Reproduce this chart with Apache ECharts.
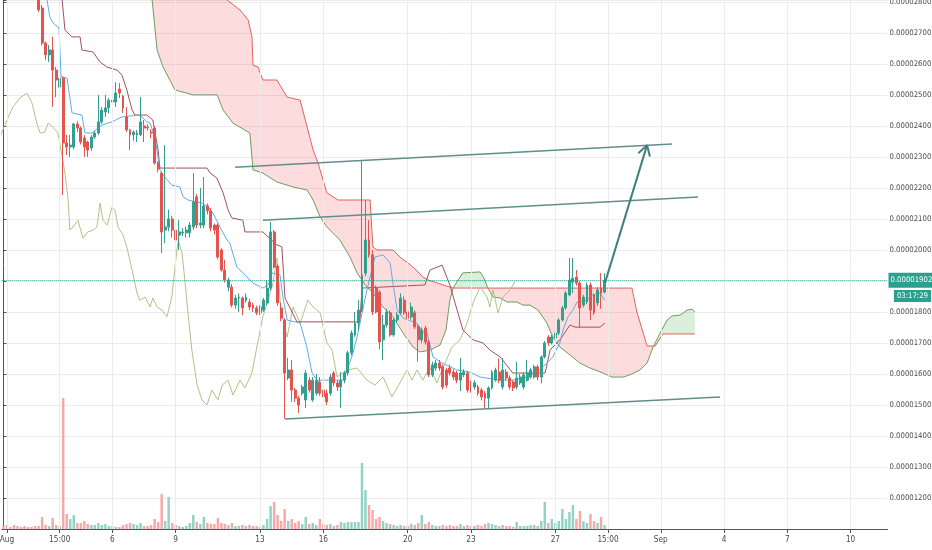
<!DOCTYPE html>
<html><head><meta charset="utf-8">
<script src="https://cdn.jsdelivr.net/npm/echarts@6.0.0/dist/echarts.min.js"></script>
<style>html,body{margin:0;padding:0;background:#fff}#c{width:932px;height:550px}</style>
</head><body><div id="c"></div>
<script>
// price units: 1 = 0.00000001
const N_SLOTS = 252;          // 4h slots on the time axis
const FIRST_K = 10;           // slot of first visible candle
const tickIdx  = [1, 16, 31, 49, 73, 91, 115, 133, 157, 172, 187, 205, 223, 241];
const tickText = ['Aug', '15:00', '6', '9', '13', '16', '20', '23', '27', '15:00', 'Sep', '4', '7', '10'];

const opens = [2830,2780,2667,2629,2645,2580,2525,2554,2345,2332,2332,2406,2393,2361,2348,2329,2364,2377,2413,2445,
2458,2483,2477,2519,2496,2429,2387,2371,2371,2371,2400,2396,2380,2393,2280,2248,2064,2074,2100,2064,
2048,2055,2055,2055,2074,2171,2080,2080,2142,2126,2080,2080,2000,1935,1880,1880,1822,1845,1845,1838,
1832,1822,1813,1797,1806,1829,1877,2058,1948,1813,1774,1587,1613,1548,1522,1538,1516,1580,1516,1538,
1574,1548,1538,1538,1603,1571,1558,1580,1603,1668,1726,1764,1806,1925,2032,1984,1877,1864,1710,1758,
1797,1726,1774,1797,1838,1800,1784,1797,1752,1710,1748,1703,1597,1619,1635,1623,1613,1619,1606,1603,
1580,1597,1603,1571,1558,1558,1548,1538,1522,1555,1580,1606,1558,1606,1587,1574,1558,1571,1558,1580,
1590,1590,1623,1590,1655,1719,1700,1716,1732,1774,1813,1855,1896,1912,1893,1822,1832,1887,1855,1829,
1877,1864];
const closes = [2774,2667,2629,2645,2580,2548,2554,2345,2332,2338,2406,2393,2348,2332,2322,2364,2377,2413,2451,2458,
2483,2477,2506,2506,2458,2387,2371,2380,2377,2413,2393,2393,2377,2280,2261,2058,2074,2100,2064,2032,
2058,2058,2064,2080,2155,2080,2087,2142,2126,2071,2064,1977,1935,1903,1903,1822,1845,1848,1813,1848,
1816,1813,1797,1816,1838,1877,2058,1945,1829,1780,1603,1613,1548,1522,1500,1558,1603,1548,1580,1580,
1538,1526,1510,1590,1571,1558,1580,1603,1668,1732,1764,1806,1919,2032,1984,1800,1800,1703,1758,1800,
1726,1774,1790,1845,1797,1780,1816,1752,1710,1742,1703,1597,1629,1635,1619,1558,1564,1603,1590,1580,
1603,1606,1548,1548,1571,1538,1526,1522,1555,1606,1613,1580,1613,1587,1558,1555,1587,1590,1597,1603,
1613,1623,1590,1655,1700,1700,1719,1732,1774,1813,1861,1903,1909,1893,1813,1848,1887,1806,1797,1871,
1861,1902];
const highs = [2840,2790,2672,2661,2687,2590,2600,2560,2371,2371,2410,2415,2398,2370,2352,2370,2384,2500,2461,2500,
2490,2528,2541,2538,2500,2461,2390,2385,2387,2493,2419,2405,2390,2400,2285,2252,2338,2130,2110,2070,
2096,2070,2075,2090,2248,2180,2200,2235,2150,2135,2085,2085,2005,1968,1910,1890,1855,1860,1850,1860,
1842,1830,1820,1822,1845,1903,2090,2064,1955,1830,1780,1652,1645,1555,1530,1565,1613,1590,1590,1600,
1590,1560,1550,1600,1610,1580,1606,1610,1675,1740,1800,1838,2290,2161,2096,2000,1885,1870,1790,1810,
1805,1780,1800,1860,1850,1820,1830,1805,1760,1750,1755,1710,1640,1645,1645,1630,1620,1630,1615,1610,
1652,1615,1610,1578,1580,1565,1555,1545,1560,1612,1620,1650,1650,1615,1595,1580,1640,1600,1605,1645,
1620,1630,1630,1660,1706,1725,1726,1740,1780,1820,1868,1974,1974,1935,1900,1855,1895,1895,1860,1880,
1925,1925];
const lows = [2767,2660,2612,2606,2461,2493,2500,2177,2306,2300,2325,2380,2340,2300,2300,2320,2358,2371,2406,2429,
2440,2442,2461,2490,2442,2380,2322,2352,2348,2368,2348,2385,2360,2275,2250,1990,2022,2060,2040,2016,
2000,2045,2040,2040,2065,2070,2070,2070,2115,2060,2050,1970,1930,1895,1867,1815,1810,1800,1790,1830,
1806,1800,1790,1790,1800,1822,1870,1940,1820,1770,1455,1580,1510,1510,1474,1530,1490,1540,1510,1530,
1530,1515,1500,1530,1560,1545,1490,1570,1595,1660,1720,1740,1800,1915,1975,1790,1795,1680,1645,1750,
1720,1720,1765,1790,1790,1770,1775,1745,1640,1700,1695,1590,1590,1610,1610,1550,1555,1595,1580,1570,
1545,1590,1540,1540,1550,1530,1515,1490,1490,1550,1575,1570,1550,1580,1550,1545,1550,1565,1550,1575,
1585,1585,1580,1570,1650,1690,1695,1710,1725,1770,1808,1850,1861,1885,1750,1815,1825,1774,1790,1820,
1810,1860];
// volume, one per slot from slot 0 (arbitrary units)
const volumes = [3,4,2,4,3,2,3,2,2,3,
3,12,4,3,11,4,3,131,15,10, 14,6,6,8,5,4,4,6,4,5, 3,3,2,2,4,5,6,5,4,6,
3,3,4,10,7,35,8,32,6,4, 3,2,3,6,14,7,5,12,6,5, 5,11,6,5,4,6,3,3,4,3,
4,3,3,2,4,10,23,27,14,8, 20,8,10,6,8,5,12,5,6,4, 10,5,4,5,3,4,7,6,7,7,
7,7,66,39,24,19,10,12,8,6, 5,4,3,4,3,3,5,4,6,14, 5,7,4,3,3,4,3,4,3,3,
5,3,4,3,3,4,3,5,6,5, 4,3,4,3,3,2,7,3,3,3, 4,4,3,8,27,6,10,6,8,20,
10,17,24,10,18,8,6,15,8,6, 12,4];

// Ichimoku lines, [slot, price]
const tenkan = [[11.5,2838],[12.4,2806],[13.2,2751],[14.1,2732],[15.8,2716],[16.4,2558],[18.1,2554],[19.5,2442],[22.3,2435],[23.2,2377],[25.2,2377],[28.0,2403],[30.9,2413],[33.7,2429],[38.8,2435],[40.8,2413],[41.7,2409],[43.1,2364],[44.5,2258],[45.4,2242],[47.9,2209],[50.2,2203],[51.1,2171],[52.5,2161],[56.5,2151],[58.2,2138],[59.6,2119],[61.6,2074],[63.6,2032],[64.4,2022],[66.4,1945],[68.1,1926],[71.0,1893],[73.8,1877],[75.3,1887],[76.4,1926],[78.7,1919],[79.5,1848],[80.7,1774],[84.4,1764],[86.3,1687],[87.8,1603],[89.2,1580],[96.6,1580],[99.1,1655],[100.6,1719],[103.4,1871],[105.7,1977],[108.0,1984],[110.0,1958],[110.8,1893],[112.0,1806],[113.7,1780],[117.6,1764],[119.3,1735],[120.5,1732],[122.2,1655],[124.8,1635],[129.0,1613],[132.7,1606],[135.6,1590],[141.3,1580],[144.9,1580],[148.9,1590],[151.8,1606],[154.6,1635],[156.3,1655],[158.3,1700],[159.2,1742],[160.6,1784],[162.0,1806],[163.2,1832],[166.0,1838],[167.7,1855],[169.7,1861],[171.1,1838]];
const kijun = [[16.4,2838],[16.7,2806],[17.5,2709],[19.5,2687],[21.8,2687],[22.3,2645],[25.5,2638],[27.5,2606],[29.4,2590],[32.3,2580],[33.7,2564],[35.1,2516],[36.6,2451],[37.4,2435],[40.8,2435],[42.5,2419],[44.0,2322],[44.5,2264],[57.9,2264],[58.8,2248],[60.7,2232],[62.5,2184],[63.9,2129],[65.0,2103],[68.1,2096],[68.7,2058],[73.8,2058],[77.8,2016],[79.2,2010],[80.1,1845],[82.1,1800],[83.5,1768],[101.4,1768],[102.0,1877],[119.9,1887],[121.3,1935],[124.8,1951],[127.0,1887],[130.7,1742],[133.6,1710],[136.4,1700],[138.4,1677],[141.3,1655],[144.9,1603],[154.1,1603],[155.5,1677],[158.3,1710],[161.2,1758],[162.6,1751],[169.7,1751],[171.1,1764]];
const chikou = [[-1.0,2364],[0.4,2403],[2.7,2461],[4.7,2490],[6.7,2506],[8.1,2474],[9.5,2409],[10.4,2377],[11.8,2380],[12.7,2409],[14.1,2396],[15.5,2377],[16.7,2300],[17.5,2248],[18.4,2161],[18.9,2064],[19.8,2074],[21.2,2096],[22.6,2038],[24.0,2058],[25.5,2064],[26.6,2074],[27.5,2151],[28.3,2096],[29.5,2080],[30.9,2138],[31.7,2129],[32.6,2074],[34.0,2048],[35.1,2009],[36.6,1935],[38.0,1861],[38.8,1838],[40.3,1848],[41.7,1816],[42.5,1845],[43.7,1816],[45.1,1806],[46.5,1784],[47.9,1848],[48.8,1945],[49.7,2032],[50.8,1990],[51.6,1903],[52.5,1797],[53.6,1677],[55.1,1564],[56.5,1516],[57.9,1500],[59.3,1548],[61.0,1516],[62.2,1564],[63.9,1580],[65.3,1532],[67.3,1580],[68.7,1555],[70.7,1603],[72.1,1687],[73.8,1784],[75.3,1838],[76.7,1893],[77.8,1974],[78.9,1806],[80.7,1719],[82.4,1816],[84.4,1764],[86.6,1838],[88.1,1816],[90.1,1797],[92.0,1700],[93.5,1677],[94.9,1590],[97.7,1613],[100.6,1619],[103.4,1580],[105.7,1564],[108.0,1590],[110.5,1526],[112.8,1571],[114.8,1613],[116.2,1580],[117.6,1613],[119.3,1580],[121.3,1622],[123.3,1571],[124.8,1613],[127.6,1687],[129.9,1710],[131.9,1764],[133.6,1829],[135.6,1880],[137.6,1848],[138.4,1816],[139.3,1871],[140.7,1797],[142.1,1848],[144.1,1871],[145.5,1897]];
const senkouA = [[41.7,2838],[42.3,2806],[43.7,2645],[45.4,2590],[48.8,2516],[53.9,2500],[60.8,2500],[62.5,2451],[65.3,2409],[70.1,2377],[71.0,2258],[73.8,2248],[77.8,2219],[82.4,2203],[86.4,2193],[88.1,2161],[90.1,2106],[92.0,2074],[95.7,2032],[98.6,1977],[100.6,1926],[102.9,1887],[105.1,1861],[108.0,1816],[110.8,1784],[113.7,1732],[116.5,1687],[118.5,1671],[121.3,1677],[124.2,1693],[125.9,1742],[127.0,1838],[127.9,1877],[129.0,1897],[130.7,1926],[135.6,1929],[136.7,1909],[137.8,1877],[139.3,1848],[141.3,1845],[143.3,1832],[146.1,1832],[147.8,1822],[149.8,1822],[152.1,1806],[154.6,1764],[156.3,1719],[158.3,1687],[161.2,1661],[164.0,1635],[166.9,1619],[170.6,1603],[173.1,1590],[176.3,1590],[178.2,1597],[181.1,1613],[183.1,1635],[184.8,1687],[185.4,1700],[186.8,1732],[188.8,1774],[190.2,1787],[192.5,1790],[194.5,1806],[195.9,1809],[196.7,1800]];
const senkouB = [[41.7,2967],[60.2,2967],[63.6,2806],[67.3,2774],[69.6,2742],[70.7,2687],[71.0,2596],[72.4,2590],[73.8,2548],[77.8,2548],[80.7,2493],[84.4,2483],[88.1,2322],[89.5,2280],[92.0,2184],[95.2,2161],[104.3,2161],[105.1,2009],[106.3,2000],[110.8,2000],[112.8,1977],[116.5,1945],[119.3,1913],[120.8,1903],[127.9,1877],[137.8,1877],[178.8,1877],[180.2,1800],[183.1,1690],[185.4,1690],[187.6,1729],[196.7,1729]];
// cloud pieces: [from slot, to slot, 1 = senkou A above B]
const cloudSegs = [[41.7,127.9,0],[127.9,137.8,1],[137.8,185.4,0],[185.4,196.7,1]];

// drawings, [slot, price]
const channelTop = [[65.9,2267],[190.2,2342]];
const channelMid = [[73.8,2096],[197.6,2171]];
const channelLow = [[80.1,1455],[203.9,1526]];
const arrowShaft = [[171.1,1893],[183.1,2338]];
const arrowHead  = [[180.6,2312],[183.1,2338],[183.9,2301]];
const countdown = '03:17:29';

const FONT = '"Liberation Sans Narrow","DejaVu Sans Condensed",Roboto,sans-serif';
const FS = 7.7;
const UP = '#32a08e', DOWN = '#e5534f';
const VOL_UP = '#93d3c6', VOL_DOWN = '#f6a9a8';
const fmtPrice = v => (v / 1e8).toFixed(8);

const tickMap = new Map(tickIdx.map((k, i) => [k, tickText[i]]));
const isTick = i => tickMap.has(i);
const categories = Array.from({length: N_SLOTS}, (_, i) => String(i));
const candleData = opens.map((o, i) => [FIRST_K + i, o, closes[i], lows[i], highs[i]]);
const volData = volumes.map((v, k) => {
  const i = k - FIRST_K;
  const up = i >= 0 && closes[i] >= opens[i];
  return {value: [k, v], itemStyle: {color: up ? VOL_UP : VOL_DOWN}};
});
const lastPrice = closes[closes.length - 1];

function lineSeries(data, color, width, z) {
  return {type: 'line', xAxisIndex: 1, yAxisIndex: 0, data, symbol: 'none', showSymbol: false,
          lineStyle: {color, width}, z, silent: true, animation: false};
}

const chart = echarts.init(document.getElementById('c'));
chart.setOption({
  animation: false,
  backgroundColor: '#ffffff',
  grid: {left: 1.7, top: 0, width: 885.8, height: 529, containLabel: false, outerBoundsMode: 'none'},
  xAxis: [
    {type: 'category', data: categories, boundaryGap: true,
     axisLine: {lineStyle: {color: '#555', width: 1}},
     axisTick: {show: true, alignWithLabel: true, interval: i => isTick(i), length: 4, lineStyle: {color: '#555'}},
     axisLabel: {interval: i => isTick(i), formatter: (v, i) => tickMap.get(i) || '', color: '#4a4a4a',
                 fontSize: 8.2, fontFamily: FONT, margin: 7},
     splitLine: {show: false}},
    {type: 'value', min: -0.5, max: N_SLOTS - 0.5, show: false, splitLine: {show: false}}
  ],
  yAxis: [
    {type: 'value', position: 'right', min: 1100, max: 2806, interval: 100,
     axisLine: {show: true, lineStyle: {color: '#555'}},
     axisTick: {show: true, length: 3, lineStyle: {color: '#555'}},
     axisLabel: {formatter: v => (Math.abs(v % 100) < 1e-6 && v > 1100) ? fmtPrice(v) : '',
                 color: '#4a4a4a', fontSize: FS, fontFamily: FONT, margin: 2, overflow: 'none', width: 80},
     splitLine: {show: true, lineStyle: {color: '#ececec', width: 1}}},
    {type: 'value', min: 0, max: 529, show: false, splitLine: {show: false}}
  ],
  graphic: [{
    type: 'text', right: 1, top: 290, z: 100,
    style: {text: countdown, fill: '#fff', backgroundColor: '#2d9f8f', padding: [2, 3, 2, 3],
            font: FS + 'px ' + FONT}
  }],
  series: [
    {type: 'bar', name: 'volume', xAxisIndex: 0, yAxisIndex: 1, data: volData, barWidth: '70%', z: 1, silent: true,
     markLine: {silent: true, symbol: ['none', 'none'], label: {show: false}, animation: false,
                lineStyle: {color: '#ececec', type: 'solid', width: 1},
                data: tickIdx.map(k => ({xAxis: k}))}},
    {type: 'custom', xAxisIndex: 1, yAxisIndex: 0, data: cloudSegs, z: 2, silent: true,
     renderItem: (params, api) => {
       const seg = cloudSegs[params.dataIndex];
       const inSeg = p => p[0] >= seg[0] && p[0] <= seg[1];
       const pts = senkouA.filter(inSeg).map(p => api.coord(p))
         .concat(senkouB.filter(inSeg).reverse().map(p => api.coord(p)));
       return {type: 'polygon', shape: {points: pts},
               style: {fill: seg[2] ? 'rgba(76,175,80,0.2)' : 'rgba(240,80,80,0.2)'}};
     }},
    lineSeries(senkouA, '#6f9c5c', 1, 3),
    lineSeries(senkouB, '#e06262', 1, 3),
    lineSeries(chikou, '#b3c088', 1, 3),
    lineSeries(kijun, '#a0525c', 1, 3),
    lineSeries(tenkan, '#62abe8', 1, 3),
    {type: 'candlestick', xAxisIndex: 0, yAxisIndex: 0, data: candleData,
     encode: {x: 0, y: [1, 2, 3, 4]}, barWidth: '68%', z: 4, silent: true,
     itemStyle: {color: UP, color0: DOWN, borderColor: UP, borderColor0: DOWN, borderWidth: 1},
     markLine: {silent: true, symbol: ['none', 'none'], animation: false,
                lineStyle: {color: '#2d9f8f', type: 'dotted', width: 1},
                label: {show: true, position: 'end', distance: 1, formatter: () => fmtPrice(lastPrice),
                        color: '#fff', backgroundColor: '#2d9f8f', padding: [4, 1, 3, 2],
                        fontSize: FS, fontFamily: FONT, overflow: 'none', width: 80},
                data: [{yAxis: lastPrice}]}},
    lineSeries(channelTop, '#5f8f8b', 1.5, 5),
    lineSeries(channelMid, '#5f8f8b', 1.5, 5),
    lineSeries(channelLow, '#5f8f8b', 1.5, 5),
    lineSeries(arrowShaft, '#417f7b', 2, 5),
    lineSeries(arrowHead, '#417f7b', 2, 5)
  ]
});
</script></body></html>
